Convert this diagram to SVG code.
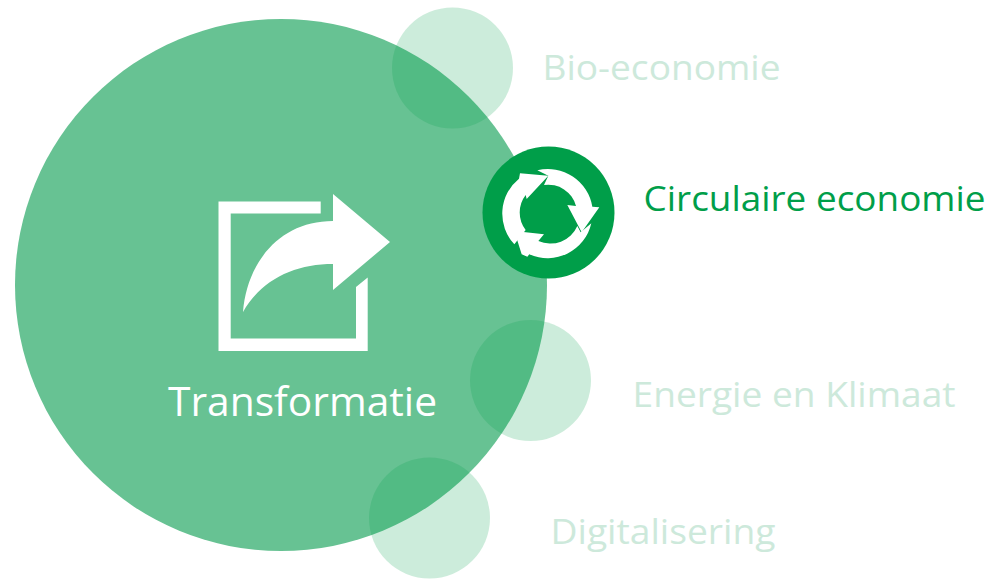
<svg xmlns="http://www.w3.org/2000/svg" width="994" height="580" viewBox="0 0 994 580">
<style>
text{font-family:"Open Sans","Noto Sans","Liberation Sans",sans-serif}
.bubble{fill:#00A04B;fill-opacity:.2}
.faded{fill:#CDE9DB;font-size:35px}
</style>
<rect width="994" height="580" fill="#fff"/>
<g id="transformatie">
<circle cx="281" cy="285" r="266" fill="#67C293"/>
<path fill="#fff" d="M218.500 201.500H320.700V213.500H230.700V338.500H356V287L367.700 277.500V351H218.500Z"/>
<path fill="#fff" d="M333 194L390 242L333 290V264C295 264 262 279 243 312C247 262 280 221 333 221Z"/>
<text x="302.500" y="416" text-anchor="middle" font-size="40" fill="#fff" textLength="269" lengthAdjust="spacingAndGlyphs">Transformatie</text>
</g>
<g id="bio-economie">
<circle class="bubble" cx="452.500" cy="68" r="60.500"/>
<text class="faded" x="542.500" y="80" textLength="238" lengthAdjust="spacingAndGlyphs">Bio-economie</text>
</g>
<g id="circulaire-economie">
<circle cx="548.500" cy="212.500" r="66" fill="#009E49"/>
<g transform="translate(470 145) scale(.33333)" fill="#fff">
<path d="M202 76L235 92L222 120A86 86 0 0 1 318 183L292 180L335 262L388 187L367 185A135 135 0 0 0 202 76Z"/>
<path d="M133 298A135 135 0 0 1 147 101L150 85L235 92L170 162L167 150A86 86 0 0 0 167 255Z"/>
<path d="M133 258L222 268L205 288A88 88 0 0 0 322 243L332 262L364 235A135 135 0 0 1 178 328L172 335L155 328Z"/>
</g>
<text x="643.500" y="211" font-size="35" fill="#009E49" textLength="342" lengthAdjust="spacingAndGlyphs">Circulaire economie</text>
</g>
<g id="energie-en-klimaat">
<circle class="bubble" cx="530.500" cy="380.500" r="60.500"/>
<text class="faded" x="632.500" y="406.500" textLength="323" lengthAdjust="spacingAndGlyphs">Energie en Klimaat</text>
</g>
<g id="digitalisering">
<circle class="bubble" cx="429.500" cy="518" r="60.500"/>
<text class="faded" x="550.500" y="543.500" textLength="225" lengthAdjust="spacingAndGlyphs">Digitalisering</text>
</g>
</svg>
